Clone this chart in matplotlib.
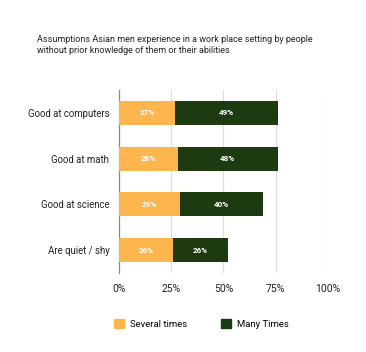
import matplotlib
matplotlib.use("Agg")
import matplotlib.pyplot as plt
from matplotlib.patches import Patch

categories = ["Good at computers", "Good at math", "Good at science", "Are quiet / shy"]
several = [27, 28, 29, 26]
many = [49, 48, 40, 26]
xticks = [0, 25, 50, 75, 100]
xticklabels = ["0%", "25%", "50%", "75%", "100%"]
series_names = ["Several times", "Many Times"]
title = ("Assumptions Asian men experience in a work place setting by people\n"
         "without prior knowledge of them or their abilities")

c_orange = "#FDB54E"
c_green = "#1E3A10"

plt.rcParams['font.family'] = ['Roboto', 'DejaVu Sans']

fig = plt.figure(figsize=(3.66, 3.52), dpi=100)
ax = fig.add_axes([119/366, 1-273/352, 209/366, 183/352])

y = list(range(len(categories)))
ax.barh(y, several, height=0.52, color=c_orange, zorder=3)
ax.barh(y, many, left=several, height=0.52, color=c_green, zorder=3)

for i in y:
    ax.text(several[i]/2, i, f"{several[i]}%", ha="center", va="center",
            color="white", fontsize=5.8, fontweight="bold", zorder=4)
    ax.text(several[i] + many[i]/2, i, f"{many[i]}%", ha="center", va="center",
            color="white", fontsize=5.8, fontweight="bold", zorder=4)

ax.set_xlim(0, 100)
ax.set_ylim(3.5, -0.5)
ax.set_yticks(y)
ax.set_yticklabels(categories, fontsize=6.9, color="#222222")
ax.set_xticks(xticks)
ax.set_xticklabels(xticklabels, fontsize=7.5, color="#222222")
ax.tick_params(axis="y", length=0, pad=7)
ax.tick_params(axis="x", length=0, pad=8)
ax.grid(axis="x", color="#dddddd", linewidth=0.8, zorder=0)
for s in ["top", "right", "bottom"]:
    ax.spines[s].set_visible(False)
ax.spines["left"].set_color("#888888")
ax.spines["left"].set_linewidth(0.9)

fig.text(37/366, 1-45/352, title, fontsize=6.5, color="#222222", va="center", ha="left",
         linespacing=1.4)

handles = [Patch(color=c_orange), Patch(color=c_green)]
fig.legend(handles, series_names, loc="center", bbox_to_anchor=(201/366, 1-324/352),
           ncol=2, frameon=False, fontsize=6.8, handlelength=1.1, handleheight=1.1,
           columnspacing=3.6, handletextpad=0.6)

fig.savefig("out.png", dpi=100, facecolor="white")
